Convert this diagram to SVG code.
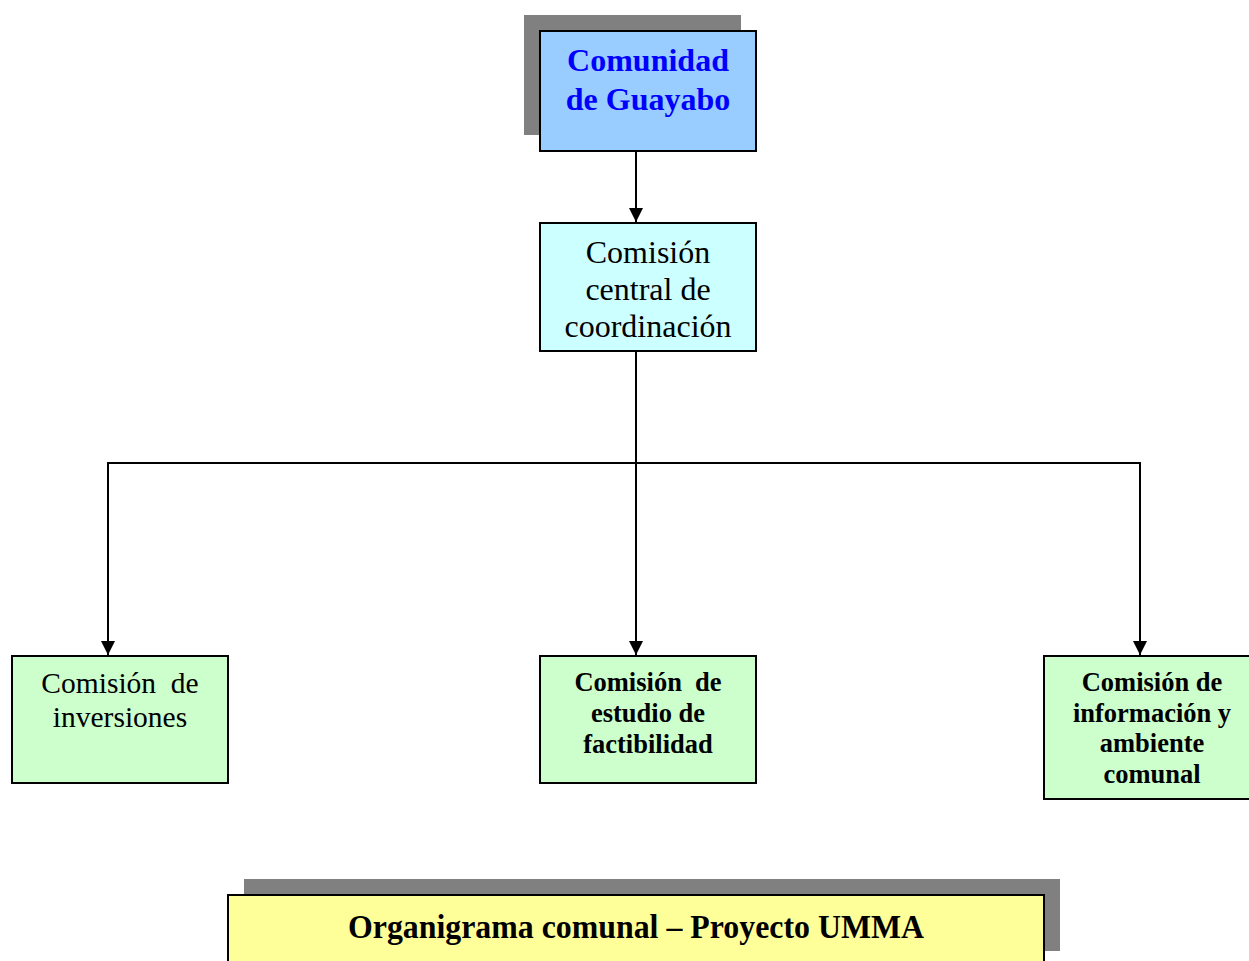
<svg xmlns="http://www.w3.org/2000/svg" width="1249" height="961" viewBox="0 0 1249 961">
<style>
.box{stroke:#000;stroke-width:2}
.sh{fill:#808080}
text{font-family:'Liberation Serif','Times New Roman',serif;text-anchor:middle;fill:#000}
.b{font-weight:bold}
.conn{stroke:#000;stroke-width:2;fill:none}
</style>
<defs>
<marker id="arr" markerWidth="14" markerHeight="14" refX="14" refY="7" orient="auto" markerUnits="userSpaceOnUse" viewBox="0 0 14 14">
<path d="M0,0 L14,7 L0,14 Z" fill="#000"/>
</marker>
</defs>
<rect width="1249" height="961" fill="#fff"/>
<g id="connectors">
<path class="conn" d="M636,152 V222" marker-end="url(#arr)"/>
<path class="conn" d="M636,352 V655" marker-end="url(#arr)"/>
<path class="conn" d="M107,463 H1141"/>
<path class="conn" d="M108,463 V655" marker-end="url(#arr)"/>
<path class="conn" d="M1140,463 V655" marker-end="url(#arr)"/>
</g>
<g id="comunidad">
<rect class="sh" x="524" y="15" width="217" height="120"/>
<rect class="box" x="540" y="31" width="216" height="120" fill="#99CCFF"/>
<text class="b" x="648" y="71" font-size="32" style="fill:#0000FF">Comunidad</text>
<text class="b" x="648" y="110" font-size="32" style="fill:#0000FF">de Guayabo</text>
</g>
<g id="central">
<rect class="box" x="540" y="223" width="216" height="128" fill="#CCFFFF"/>
<text x="648" y="263" font-size="32">Comisión</text>
<text x="648" y="300" font-size="32">central de</text>
<text x="648" y="337" font-size="32">coordinación</text>
</g>
<g id="inversiones">
<rect class="box" x="12" y="656" width="216" height="127" fill="#CCFFCC"/>
<text x="120" y="693" font-size="29.5" xml:space="preserve">Comisión  de</text>
<text x="120" y="727" font-size="29.5">inversiones</text>
</g>
<g id="factibilidad">
<rect class="box" x="540" y="656" width="216" height="127" fill="#CCFFCC"/>
<text class="b" x="648" y="691" font-size="26.5" xml:space="preserve">Comisión  de</text>
<text class="b" x="648" y="722" font-size="26.5">estudio de</text>
<text class="b" x="648" y="753" font-size="26.5">factibilidad</text>
</g>
<g id="informacion">
<rect class="box" x="1044" y="656" width="216" height="143" fill="#CCFFCC"/>
<text class="b" x="1152" y="691" font-size="26.5">Comisión de</text>
<text class="b" x="1152" y="722" font-size="26.5">información y</text>
<text class="b" x="1152" y="752" font-size="26.5">ambiente</text>
<text class="b" x="1152" y="783" font-size="26.5">comunal</text>
</g>
<g id="titulo">
<rect class="sh" x="244" y="879" width="816" height="72"/>
<rect class="box" x="228" y="895" width="816" height="80" fill="#FFFF99"/>
<text class="b" x="636" y="938" font-size="33" textLength="576" lengthAdjust="spacingAndGlyphs">Organigrama comunal – Proyecto UMMA</text>
</g>
</svg>
